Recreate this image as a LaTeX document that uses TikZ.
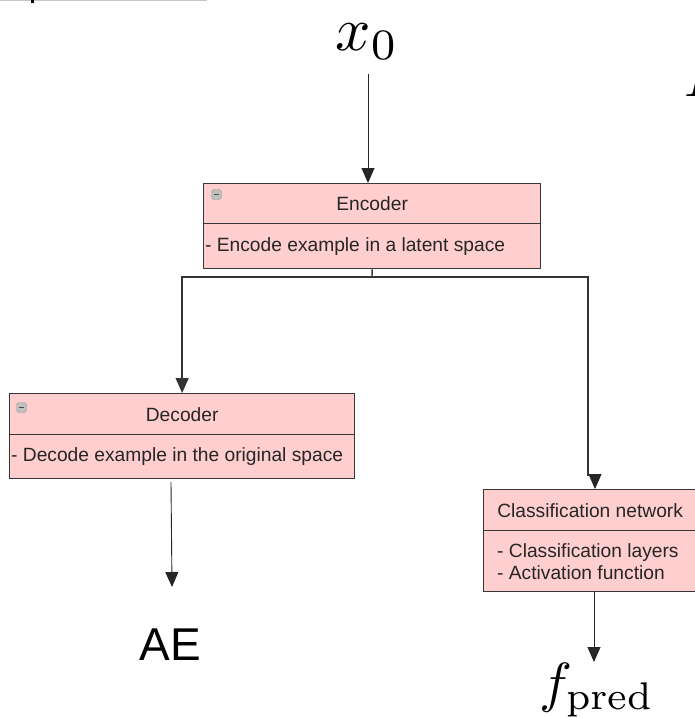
\documentclass[tikz,border=0pt]{standalone}
\usepackage{fontspec}
\newfontfamily\lsans{Liberation Sans}
\usetikzlibrary{arrows.meta}
\definecolor{boxfill}{RGB}{255,206,206}
\definecolor{boxline}{RGB}{55,55,55}
\begin{document}
\begin{tikzpicture}[x=1pt,y=-1pt,
  boxpart/.style={draw=boxline, line width=1.3pt, fill=boxfill, inner sep=0pt, anchor=north west},
  lbl/.style={font=\lsans\fontsize{19.2}{22}\selectfont, inner sep=0pt, text=black!85},
  conn/.style={draw=black!85, line width=0.9pt},
  branch/.style={draw=black!80, line width=1.4pt},
  tip/.style={-{Triangle[width=13pt,length=15pt]}},
  icon/.style={draw=gray!80, fill=gray!50, rounded corners=1.8pt, minimum size=10pt, inner sep=0pt,
    path picture={\draw[black!70, line width=1.5pt]
      ([xshift=-2.8pt]path picture bounding box.center) -- ([xshift=2.8pt]path picture bounding box.center);}},
  bigmath/.style={inner sep=0pt, scale=6.2}]
\useasboundingbox (0,0) rectangle (694,718);

% crop remnants at the top-left
\draw[gray!45, line width=1.2pt] (0,0.6) -- (207,0.6);
\fill[black] (31,0) rectangle (34,3);

% cropped letter at the right edge
\begin{scope}
  \clip (680,0) rectangle (694,718);
  \node[bigmath, scale=0.92, anchor=base west] (cut) at (683,96) {$L$};
\end{scope}

% input
\node[bigmath] (x0) at (367,42) {$x_0$};

% Encoder
\node[boxpart, minimum width=337pt, minimum height=40pt] (enchead) at (203,183) {};
\node[boxpart, minimum width=337pt, minimum height=45pt] (encbody) at (203,223) {};
\node[lbl] (enctitle) at (enchead.center) {Encoder};
\node[lbl, anchor=west] (enctext) at ([xshift=2pt]encbody.west) {- Encode example in a latent space};
\node[icon] (encicon) at (216.5,194.5) {};

% Decoder
\node[boxpart, minimum width=345pt, minimum height=41pt] (dechead) at (9,393) {};
\node[boxpart, minimum width=345pt, minimum height=44pt] (decbody) at (9,434) {};
\node[lbl] (dectitle) at (dechead.center) {Decoder};
\node[lbl, anchor=west] (dectext) at ([xshift=2pt]decbody.west) {- Decode example in the original space};
\node[icon] (decicon) at (21.5,407.5) {};

% Classification network
\node[boxpart, minimum width=213pt, minimum height=41pt] (clshead) at (483,489) {};
\node[boxpart, minimum width=213pt, minimum height=61pt] (clsbody) at (483,530) {};
\node[lbl] (clstitle) at (clshead.center) {Classification network};
\node[lbl, anchor=north west, align=left, font=\lsans\fontsize{19.2}{22}\selectfont] (clstext) at (497,543)
  {- Classification layers\\- Activation function};

% outputs
\node[inner sep=0pt, font=\lsans\fontsize{46}{50}\selectfont] (ae) at (170,645) {AE};
\node[bigmath, scale=0.89] (fpred) at (597,690) {$f_{\mathrm{pred}}$};

% connector coordinates
\coordinate (x0out) at (368,74);
\coordinate (split) at (372,277);
\coordinate (jogA) at (588,475);
\coordinate (jogB) at (595,475);
\coordinate (decout) at (171,482);
\coordinate (aein) at (172,587);
\coordinate (clsout) at (594,591);
\coordinate (fin) at (594,662);

% connectors
\draw[conn, tip] (x0out) -- (x0out |- enchead.north);
\draw[branch] (encbody.south) -- (split);
\draw[branch, tip] (split) -| (dechead.north);
\draw[branch] (split) -| (jogA) -- (jogB);
\draw[conn, tip] (jogB) -- (jogB |- clshead.north);
\draw[conn, tip] (decout) -- (aein);
\draw[conn, tip] (clsout) -- (fin);
\end{tikzpicture}
\end{document}
